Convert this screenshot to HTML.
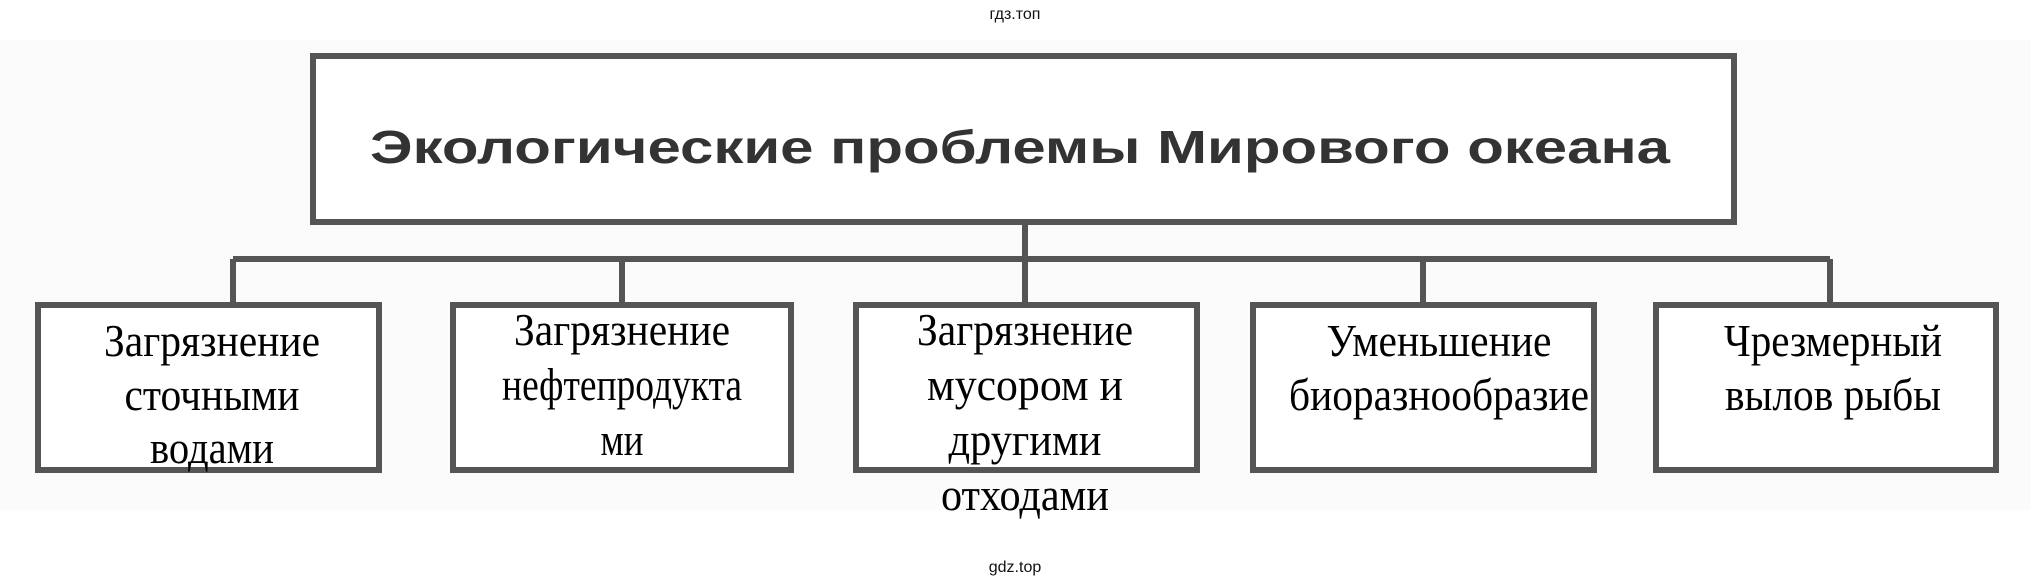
<!DOCTYPE html>
<html><head><meta charset="utf-8"><style>
html,body{margin:0;padding:0;background:#fff;}
svg{display:block}
</style></head><body>
<svg width="2031" height="586" viewBox="0 0 2031 586" xmlns="http://www.w3.org/2000/svg">
<rect x="0" y="0" width="2031" height="586" fill="#fff"/>
<rect x="0" y="40" width="2031" height="470" fill="#fbfbfb"/>
<text x="1015" y="19" font-family="Liberation Sans, sans-serif" font-size="16" text-anchor="middle" fill="#111">гдз.топ</text>
<text x="1015" y="572" font-family="Liberation Sans, sans-serif" font-size="16" text-anchor="middle" fill="#111">gdz.top</text>
<g stroke="#555" stroke-width="6" fill="none">
<rect x="313" y="56" width="1421" height="166" fill="#fff"/>
<line x1="1025" y1="222" x2="1025" y2="259"/>
<line x1="233" y1="259" x2="1830" y2="259"/>
<line x1="233" y1="259" x2="233" y2="305"/>
<line x1="622" y1="259" x2="622" y2="305"/>
<line x1="1025" y1="259" x2="1025" y2="305"/>
<line x1="1423" y1="259" x2="1423" y2="305"/>
<line x1="1830" y1="259" x2="1830" y2="305"/>
<rect x="38" y="305" width="341" height="165" fill="#fff"/>
<rect x="453" y="305" width="338" height="165" fill="#fff"/>
<rect x="856" y="305" width="341" height="165" fill="#fff"/>
<rect x="1253" y="305" width="341" height="165" fill="#fff"/>
<rect x="1656" y="305" width="340" height="165" fill="#fff"/>
</g>
<text x="1020" y="163" font-family="Liberation Sans, sans-serif" font-weight="bold" font-size="46" text-anchor="middle" fill="#333" textLength="1300" lengthAdjust="spacingAndGlyphs">Экологические проблемы Мирового океана</text>
<g font-family="Liberation Serif, serif" font-size="46" text-anchor="middle" fill="#000">
<text x="212" y="356" textLength="216" lengthAdjust="spacingAndGlyphs">Загрязнение</text>
<text x="212" y="410" textLength="175" lengthAdjust="spacingAndGlyphs">сточными</text>
<text x="212" y="463" textLength="124" lengthAdjust="spacingAndGlyphs">водами</text>
<text x="622" y="345" textLength="216" lengthAdjust="spacingAndGlyphs">Загрязнение</text>
<text x="622" y="400" textLength="240" lengthAdjust="spacingAndGlyphs">нефтепродукта</text>
<text x="622" y="455" textLength="43" lengthAdjust="spacingAndGlyphs">ми</text>
<text x="1025" y="345" textLength="216" lengthAdjust="spacingAndGlyphs">Загрязнение</text>
<text x="1025" y="400" textLength="196" lengthAdjust="spacingAndGlyphs">мусором и</text>
<text x="1025" y="455" textLength="153" lengthAdjust="spacingAndGlyphs">другими</text>
<text x="1025" y="510" textLength="168" lengthAdjust="spacingAndGlyphs">отходами</text>
<text x="1439" y="356" textLength="225" lengthAdjust="spacingAndGlyphs">Уменьшение</text>
<text x="1439" y="410" textLength="300" lengthAdjust="spacingAndGlyphs">биоразнообразие</text>
<text x="1833" y="356" textLength="218" lengthAdjust="spacingAndGlyphs">Чрезмерный</text>
<text x="1833" y="410" textLength="216" lengthAdjust="spacingAndGlyphs">вылов рыбы</text>
</g>
</svg>
</body></html>
